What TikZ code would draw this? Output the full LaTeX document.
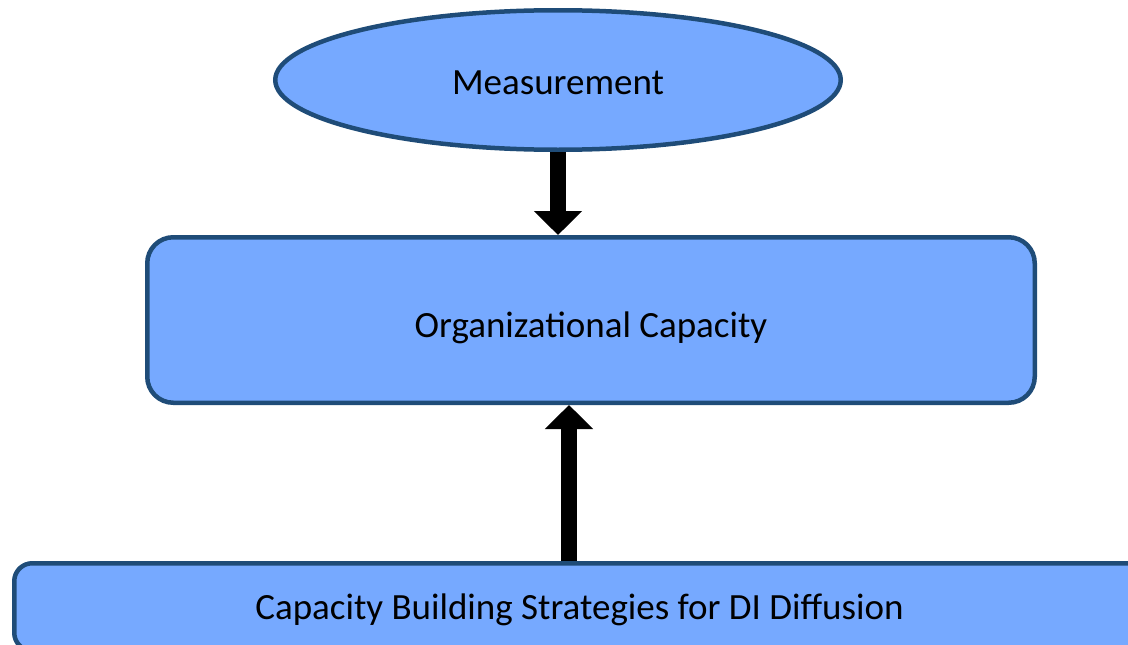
\documentclass[tikz,border=0pt]{standalone}
\usepackage{fontspec}
\setmainfont{Carlito}
\usetikzlibrary{shapes.geometric,arrows.meta}
\definecolor{boxfill}{RGB}{118,169,255}
\definecolor{boxline}{RGB}{31,76,120}
\tikzset{
  shapebox/.style={draw=boxline, fill=boxfill, line width=4.5pt, inner sep=0pt, text depth=0pt, font=\fontsize{37}{44}\selectfont},
  bigarrow/.style={line width=16pt, -{Triangle[width=47pt,length=24pt]}},
}
\begin{document}
\begin{tikzpicture}[x=1pt,y=-1pt]
\useasboundingbox (0,0) rectangle (1128,645);
\clip (0,0) rectangle (1128,645);
\node[shapebox, ellipse, text height=28pt, minimum width=565.5pt, minimum height=139.5pt] (m) at (558,80) {Measurement};
\node[shapebox, rectangle, text height=34pt, rounded corners=26pt, minimum width=887.5pt, minimum height=165.5pt] (o) at (591,320) {Organizational Capacity};
\node[shapebox, rectangle, text height=24pt, rounded corners=18pt, minimum width=1130.5pt, minimum height=87.5pt] (b) at (579.5,607) {Capacity Building Strategies for DI Diffusion};
\coordinate (a2) at (569,0);
\draw[bigarrow] (m.south) -- (m.south |- o.north);
\draw[bigarrow] (a2 |- b.north) -- (a2 |- o.south);
\end{tikzpicture}
\end{document}
